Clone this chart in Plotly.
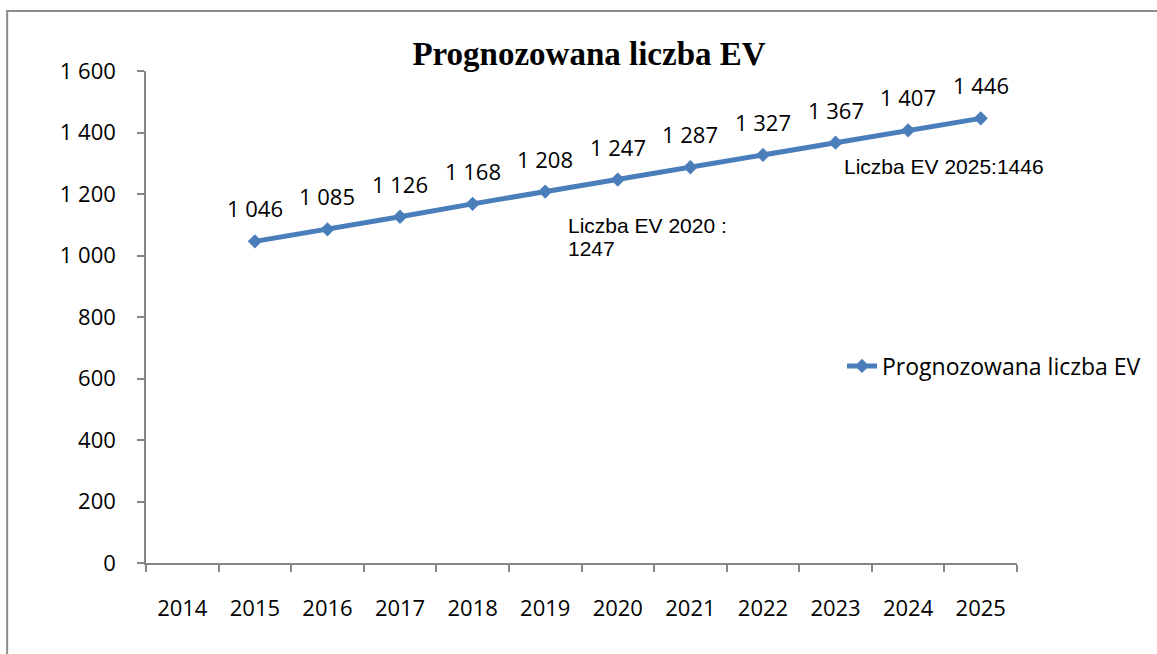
import plotly.graph_objects as go

years = ["2014", "2015", "2016", "2017", "2018", "2019", "2020", "2021", "2022", "2023", "2024", "2025"]
ev_count = [None, 1046, 1085, 1126, 1168, 1208, 1247, 1287, 1327, 1367, 1407, 1446]
series_name = "Prognozowana liczba EV"
title_text = "Prognozowana liczba EV"
note_2020_lines = ["Liczba EV 2020 :", "1247"]
note_2025 = "Liczba EV 2025:1446"

W, H = 1157, 654
L, R, T, B = 146, 1157 - 1018, 71, 654 - 563
pw, ph = W - L - R, H - T - B

def px(x):
    return (x - L) / pw

def py(y):
    return (H - B - y) / ph

fig = go.Figure()
fig.add_trace(go.Scatter(
    x=years, y=ev_count, name=series_name, mode="lines+markers",
    line=dict(color="#4A7EBB", width=5),
    marker=dict(symbol="diamond", size=11, color="#4A7EBB"),
    cliponaxis=False,
))

# data labels above points (category index positions on the x axis)
for i, v in enumerate(ev_count):
    if v is None:
        continue
    fig.add_annotation(x=i, y=v, xref="x", yref="y", text=f"{v:,}".replace(",", " "),
                       showarrow=False, yshift=33, yanchor="middle", xanchor="center",
                       font=dict(family="Open Sans", size=22, color="black"))

axis_col = "#868686"
fig.update_layout(
    width=W, height=H,
    margin=dict(l=L, r=R, t=T, b=B),
    paper_bgcolor="white", plot_bgcolor="white",
    separators=", ",
    title=dict(text=title_text, x=589 / W, y=1 - 53 / H, xanchor="center", yanchor="middle",
               font=dict(family="Liberation Serif", size=33, color="black", weight="bold")),
    showlegend=True,
    legend=dict(x=px(842), y=py(366), xanchor="left", yanchor="middle",
                font=dict(family="Open Sans", size=23, color="black"),
                bgcolor="rgba(0,0,0,0)"),
    xaxis=dict(type="category", categoryorder="array", categoryarray=years,
               range=[-0.5, 11.5], showgrid=False, zeroline=False,
               showline=True, linecolor=axis_col, linewidth=1.5,
               ticks="outside", tickson="boundaries", ticklen=7, tickcolor=axis_col, tickwidth=1.5,
               tickfont=dict(family="Open Sans", size=22, color="black"),
               ticklabelstandoff=25),
    yaxis=dict(range=[0, 1600], dtick=200, tick0=0, tickformat=",d",
               showgrid=False, zeroline=False,
               showline=True, linecolor=axis_col, linewidth=1.5,
               ticks="outside", ticklen=7, tickcolor=axis_col, tickwidth=1.5,
               tickfont=dict(family="Open Sans", size=22, color="black"),
               ticklabelstandoff=17),
)

fig.add_annotation(text=note_2020_lines[0], xref="paper", yref="paper", x=px(566), y=py(225),
                   xanchor="left", yanchor="middle", align="left", showarrow=False,
                   font=dict(family="Liberation Sans", size=21, color="black"))
fig.add_annotation(text=note_2020_lines[1], xref="paper", yref="paper", x=px(566), y=py(248),
                   xanchor="left", yanchor="middle", align="left", showarrow=False,
                   font=dict(family="Liberation Sans", size=21, color="black"))
fig.add_annotation(text=note_2025, xref="paper", yref="paper", x=px(843), y=py(167),
                   xanchor="left", yanchor="middle", align="left", showarrow=False,
                   font=dict(family="Liberation Sans", size=21, color="black"))

# outer chart frame (extends beyond page on right/bottom)
fig.add_shape(type="rect", xref="paper", yref="paper",
              x0=px(7), y0=py(700), x1=px(1200), y1=py(11),
              line=dict(color="#8c8c8c", width=2), fillcolor="rgba(0,0,0,0)", layer="below")

fig.write_html("out.html", config={"displayModeBar": False},
               post_script="document.body.style.margin='0px';")
